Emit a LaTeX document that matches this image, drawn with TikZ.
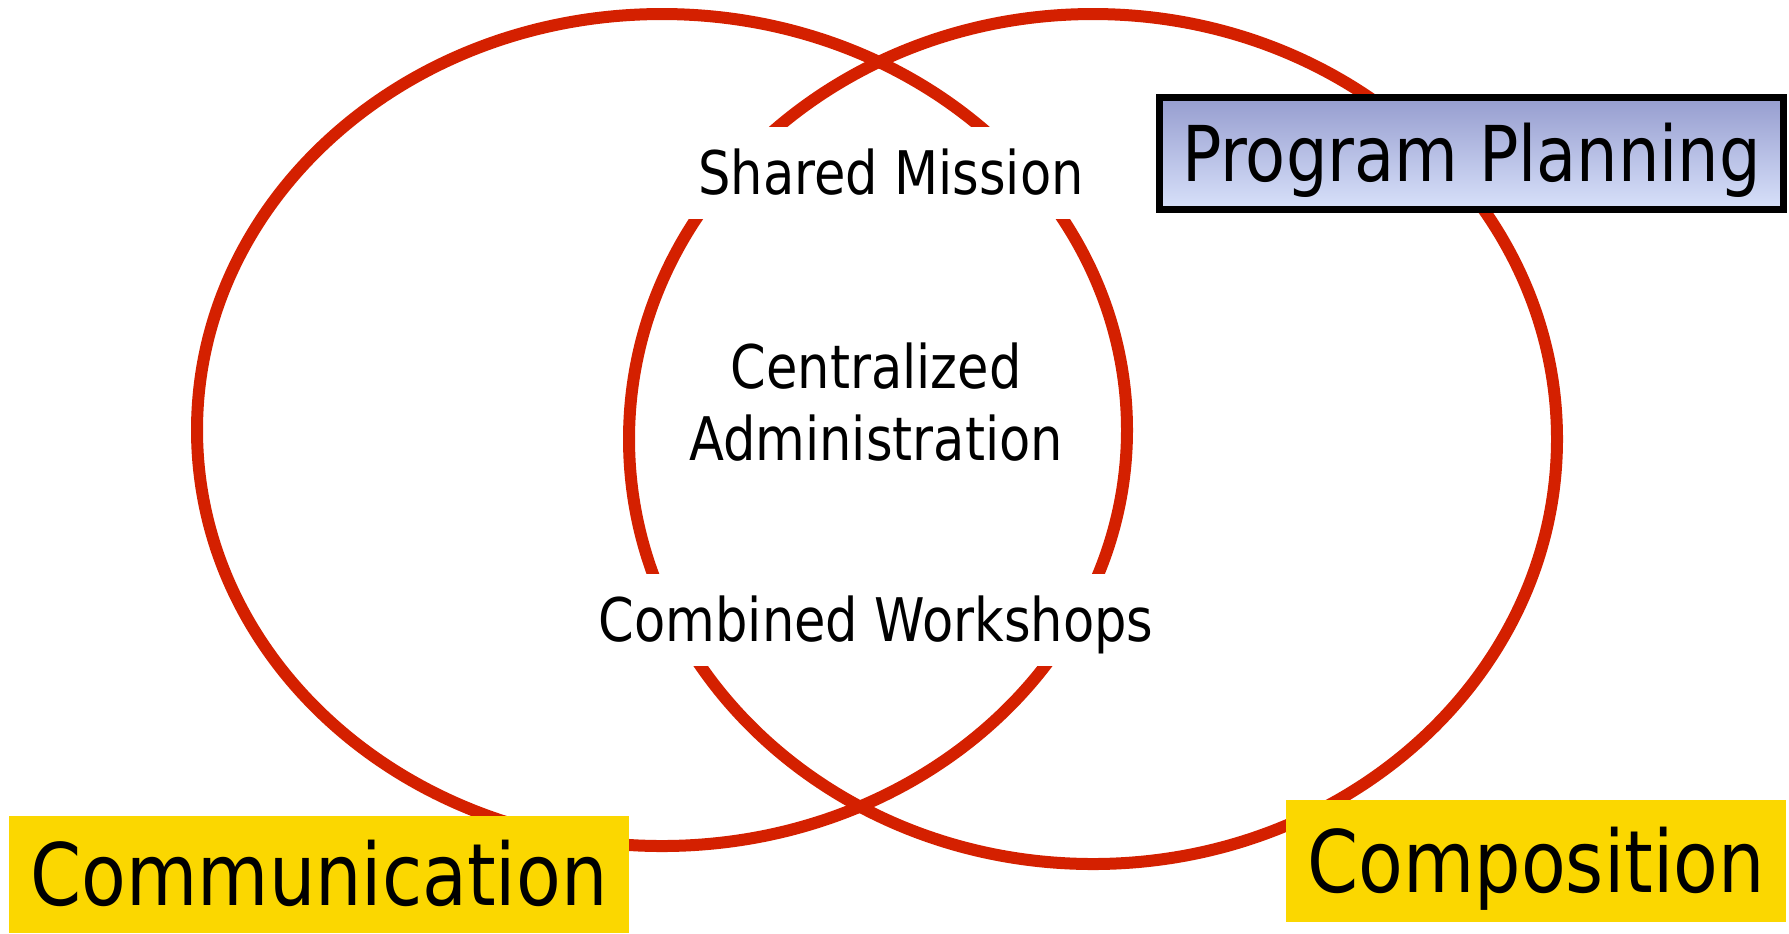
\documentclass[tikz,border=0pt]{standalone}
\usepackage{fontspec}
\setmainfont[FakeStretch=0.85]{DejaVu Sans}
\usetikzlibrary{positioning}
\definecolor{vennred}{RGB}{212,32,0}
\definecolor{tagyellow}{RGB}{251,215,0}
\definecolor{plantop}{RGB}{150,157,207}
\definecolor{planbot}{RGB}{216,225,250}
\tikzset{>=latex}

\begin{document}
\begin{tikzpicture}[x=0.1mm, y=-0.1mm,
	ring/.style={draw=vennred, line width=1.2mm},
	shared/.style={fill=white, inner xsep=1mm, inner ysep=0pt, text height=12.3pt, text depth=0pt, minimum height=9.2mm, font=\fontsize{17.1}{20.3}\selectfont},
	tag/.style={fill=tagyellow, inner sep=0pt, text height=17.9pt, text depth=0pt, font=\fontsize{24.5}{29}\selectfont}]
		\useasboundingbox (0,0) rectangle (1789,933);
		\draw[ring] (662,430) ellipse [x radius=46.5mm, y radius=41.6mm];
		\draw[ring] (1093,439) ellipse [x radius=46.4mm, y radius=42.5mm];
		\node[shared] (mission) at (891,173) {Shared Mission};
		\node[align=center, font=\fontsize{17.1}{20.3}\selectfont] (admin) at (876,402) {Centralized\\Administration};
		\node[shared] (workshops) at (876,620) {Combined Workshops};
		\node[tag, minimum width=62mm, minimum height=11.7mm] (comm) at (319,874.5) {Communication};
		\node[tag, minimum width=50mm, minimum height=12.2mm] (comp) at (1536,861) {Composition};
		\node[draw=black, line width=0.7mm, top color=plantop, bottom color=planbot, inner sep=0pt, minimum width=62.4mm, minimum height=11.2mm, text height=16pt, text depth=0pt, font=\fontsize{21.9}{26}\selectfont] (plan) at (1471.5,153.5) {Program Planning};
	\end{tikzpicture}
\end{document}
